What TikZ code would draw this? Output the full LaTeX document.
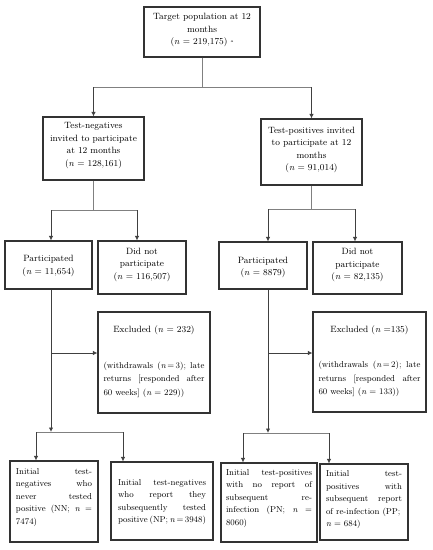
\documentclass[tikz,border=0pt]{standalone}
\usetikzlibrary{arrows.meta,calc}
\begin{document}
\begin{tikzpicture}[x=1pt,y=-1pt,
  box/.style={draw=black!80,line width=1.1pt,inner sep=0pt},
  txt/.style={inner sep=0pt,align=center,font=\fontsize{9.1}{12.5}\selectfont},
  jtxt/.style={inner sep=0pt,align=center,font=\fontsize{8.6}{12.5}\selectfont},
  line/.style={draw=black!50,line width=0.9pt},
  arr/.style={draw=black!75,line width=0.9pt,-{Latex[length=4.5pt,width=4.5pt]}}]
\useasboundingbox (0,0) rectangle (433,550);
\newcommand{\bx}[5]{% name, x1,y1,x2,y2
  \node[box,minimum width={#4-#2}, minimum height={#5-#3}] (#1) at ({(#2+#4)/2},{(#3+#5)/2}) {};}
\newcommand{\jline}[2]{\makebox[#1pt][l]{#2}}
% boxes
\bx{top}{144}{7}{260}{57}
\bx{tn}{43}{117}{144}{180}
\bx{tp}{261}{119}{362}{185}
\bx{p1}{5}{241}{92}{289}
\bx{d1}{98}{241}{186}{294}
\bx{p2}{219}{242}{307}{289}
\bx{d2}{313}{242}{402}{294}
\bx{e1}{98}{312}{210}{413}
\bx{e2}{313}{312}{426}{412}
\bx{nn}{10}{461}{98}{542}
\bx{np}{111}{462}{213}{540}
\bx{pn}{221}{463}{317}{542}
\bx{pp}{320}{464}{408}{540}
% texts
\node[txt] (top-t) at ($(top.center)+(0,-2)$) {Target population at 12\\months\\(\textit{n} = 219,175)~\raisebox{0.4ex}{\fontsize{4}{4}\selectfont a}};
\node[txt] (tn-t) at ($(tn.center)+(0,-3)$) {Test-negatives\\invited to participate\\at 12 months\\(\textit{n} = 128,161)};
\node[txt] (tp-t) at ($(tp.center)+(0,-2)$) {Test-positives invited\\to participate at 12\\months\\(\textit{n} = 91,014)};
\node[txt] (p1-t) at ($(p1.center)+(0,1)$) {Participated\\(\textit{n} = 11,654)};
\node[txt] (d1-t) at ($(d1.center)+(0,-3)$) {Did not\\participate\\(\textit{n} = 116,507)};
\node[txt] (p2-t) at ($(p2.center)+(0,2)$) {Participated\\(\textit{n} = 8879)};
\node[txt] (d2-t) at ($(d2.center)+(0,-3)$) {Did not\\participate\\(\textit{n} = 82,135)};
\node[txt] (e1-h) at ($(e1.north)+(0,19)$) {Excluded (\textit{n} = 232)};
\node[jtxt,font=\fontsize{8.6}{13.5}\selectfont] (e1-t) at ($(e1.center)+(0,17)$) {%
  \jline{101}{(withdrawals\hfill(\textit{n}\,=\,3);\hfill late}\\
  \jline{101}{returns\hfill[responded\hfill after}\\
  \jline{101}{60 weeks] (\textit{n} = 229))}};
\node[txt] (e2-h) at ($(e2.north)+(0,19)$) {Excluded (\textit{n} =135)};
\node[jtxt,font=\fontsize{8.6}{13.5}\selectfont] (e2-t) at ($(e2.center)+(0,17)$) {%
  \jline{102}{(withdrawals\hfill(\textit{n}\,=\,2);\hfill late}\\
  \jline{102}{returns\hfill[responded\hfill after}\\
  \jline{102}{60 weeks] (\textit{n} = 133))}};
\node[jtxt] (nn-t) at ($(nn.center)+(0,-4)$) {%
  \jline{76}{Initial\hfill test-}\\
  \jline{76}{negatives\hfill who}\\
  \jline{76}{never\hfill tested}\\
  \jline{76}{positive\hfill(NN;\hfill\textit{n}\hfill=}\\
  \jline{76}{7474)}};
\node[jtxt] (np-t) at ($(np.center)+(0,1)$) {%
  \jline{88}{Initial\hfill test-negatives}\\
  \jline{88}{who\hfill report\hfill they}\\
  \jline{88}{subsequently\hfill tested}\\
  \jline{88}{positive\hfill(NP;\hfill\textit{n}\,=\,3948)}};
\node[jtxt] (pn-t) at ($(pn.center)+(0,-4)$) {%
  \jline{86}{Initial\hfill test-positives}\\
  \jline{86}{with\hfill no\hfill report\hfill of}\\
  \jline{86}{subsequent\hfill re-}\\
  \jline{86}{infection\hfill(PN;\hfill\textit{n}\hfill=}\\
  \jline{86}{8060)}};
\node[jtxt] (pp-t) at ($(pp.center)+(0,-2)$) {%
  \jline{76}{Initial\hfill test-}\\
  \jline{76}{positives\hfill with}\\
  \jline{76}{subsequent\hfill report}\\
  \jline{76}{of re-infection (PP;}\\
  \jline{76}{\textit{n} = 684)}};
% junction coordinates
\coordinate (j0) at (202,87);
\coordinate (j1) at (93.5,210);
\coordinate (j1l) at (51,210);
\coordinate (j1r) at (137,210);
\coordinate (j2) at (311.5,209);
\coordinate (j2l) at (268,209);
\coordinate (j2r) at (355,209);
\coordinate (k1) at (51,432);
\coordinate (k1l) at (36,432);
\coordinate (k1r) at (123,432);
\coordinate (k2) at (268,433);
\coordinate (k2l) at (243,433);
\coordinate (k2r) at (329,433);
\coordinate (x1) at (51,353);
\coordinate (x2) at (268,353);
% connectors
\draw[line] (top) -- (j0);
\draw[line] (tn |- j0) -- (tp |- j0);
\draw[arr] (tn |- j0) -- (tn);
\draw[arr] (tp |- j0) -- (tp);
\draw[line] (tn) -- (j1);
\draw[line] (j1l) -- (j1r);
\draw[arr] (j1l) -- (j1l |- p1.north);
\draw[arr] (j1r) -- (j1r |- d1.north);
\draw[line] (tp) -- (j2);
\draw[line] (j2l) -- (j2r);
\draw[arr] (j2l) -- (j2l |- p2.north);
\draw[arr] (j2r) -- (j2r |- d2.north);
\draw[arr] (k1 |- p1.south) -- (k1);
\draw[arr] (x1) -- (e1.west |- x1);
\draw[line] (k1l) -- (k1r);
\draw[arr] (k1l) -- (k1l |- nn.north);
\draw[arr] (k1r) -- (k1r |- np.north);
\draw[arr] (k2 |- p2.south) -- (k2);
\draw[arr] (x2) -- (e2.west |- x2);
\draw[line] (k2l) -- (k2r);
\draw[arr] (k2l) -- (k2l |- pn.north);
\draw[arr] (k2r) -- (k2r |- pp.north);
\end{tikzpicture}
\end{document}
